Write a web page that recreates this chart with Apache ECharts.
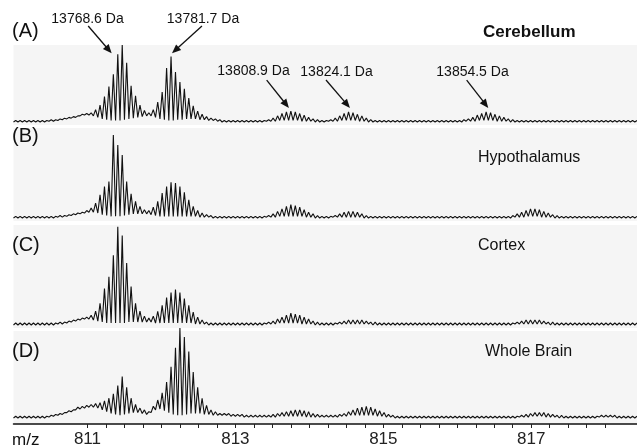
<!DOCTYPE html>
<html><head><meta charset="utf-8">
<script src="https://cdn.jsdelivr.net/npm/echarts@6/dist/echarts.min.js"></script>
<style>html,body{margin:0;padding:0;background:#fff}#c{width:637px;height:448px}</style>
</head><body><div id="c"></div>
<script>
// sampling grid of the spectrum (m/z), one isotope slot per step
const mzStart = 810.0;
const mzStep = 0.06;
const xTicks = [811,811.25,811.5,811.75,812,812.25,812.5,812.75,813,813.25,813.5,813.75,814,814.25,814.5,814.75,815,815.25,815.5,815.75,816,816.25,816.5,816.75,817,817.25,817.5,817.75,818];
const xLabels = [811,813,815,817];
const panelNames = ['Cerebellum','Hypothalamus','Cortex','Whole Brain'];
const panelTags = ['(A)','(B)','(C)','(D)'];

// peak tops (relative intensity, %) per isotope slot
const peaksA = [2,2,2,2,2,2,2,2, 3,3,4,5,6,7,8,10,11, 12,16,22,33,46,62,88,100,77,47,34,22,15,12, 16,26,39,70,85,65,52,43,31,21,14,10,7,5,4,3, 2,2,2,2,2,2,2,2,2,2, 3,5,8,11,13,14,13,11,9,6,4,3, 2,2, 3,5,8,11,13,12,10,8,5,3, 2,2,2,2,2,2,2,2,2,2,2,2,2,2,2,2,2,2,2,2, 3,4,6,9,11,13,12,10,8,6,4,3, 2,2,2,2,2,2,2,2,2,2,2,2,2,2,2,2,2,2,2,2,2,2,2,2,2,2,2,2];
const floorA = [0,0,0,0,0,0,0,0, 1,1,2,3,4,5,6,8,9, 9,8,6,4,3,2,2,2,3,4,5,6,7,8, 8,6,4,3,2,2,3,3,4,4,4,3,3,2,2,1, 0,0,0,0,0,0,0,0,0,0, 1,1,1,2,2,2,2,2,1,1,1,0, 0,0, 1,1,1,2,2,2,2,1,1,0, 0,0,0,0,0,0,0,0,0,0,0,0,0,0,0,0,0,0,0,0, 0,1,1,1,2,2,2,2,1,1,1,0, 0,0,0,0,0,0,0,0,0,0,0,0,0,0,0,0,0,0,0,0,0,0,0,0,0,0,0,0];

const peaksB = [2,2,2,2,2,2,2,2,2,2, 3,3,4,5,6,7, 9,12,18,28,38,44,100,88,76,44,29,20,14,10,9, 13,20,30,38,43,42,38,31,22,14,9,6,4,3, 2,2,2,2,2,2,2,2,2,2,2,2, 3,5,8,11,14,16,15,13,10,7,5,3, 2,2,2, 3,5,7,8,8,7,5,3, 2,2,2,2,2,2,2,2,2,2,2,2,2,2,2,2,2,2,2,2,2,2,2,2,2,2,2,2,2,2,2,2, 3,5,7,9,11,11,10,8,6,4,3, 2,2,2,2,2,2,2,2,2,2,2,2,2,2,2,2,2,2];
const floorB = [0,0,0,0,0,0,0,0,0,0, 1,1,2,3,4,5, 6,7,7,6,4,3,2,2,2,3,4,5,5,5,5, 4,3,2,2,2,2,2,2,2,2,2,1,1,1, 0,0,0,0,0,0,0,0,0,0,0,0, 1,1,1,2,2,2,2,2,2,1,1,0, 0,0,0, 1,1,1,1,1,1,1,0, 0,0,0,0,0,0,0,0,0,0,0,0,0,0,0,0,0,0,0,0,0,0,0,0,0,0,0,0,0,0,0,0, 0,1,1,1,2,2,2,1,1,1,0, 0,0,0,0,0,0,0,0,0,0,0,0,0,0,0,0,0,0];

const peaksC = [2,2,2,2,2,2,2,2,2,2, 3,3,4,5,6,7, 8,10,14,22,37,49,71,100,91,63,39,22,14,9,7, 9,14,20,28,33,36,33,27,20,13,8,5,3, 2,2,2,2,2,2,2,2,2,2,2,2,2, 3,4,6,8,10,12,11,10,8,6,4,3, 2,2,2,2, 3,4,5,5,5,5,4,3,3, 2,2,2,2,2,2,2,2,2,2,2,2,2,2,2,2,2,2,2,2,2,2,2,2,2,2,2,2,2,2,2, 3,4,5,5,5,5,4,3,3,2, 2,2,2,2,2,2,2,2,2,2,2,2,2,2,2,2,2,2];
const floorC = [0,0,0,0,0,0,0,0,0,0, 1,1,2,3,4,5, 6,6,5,4,3,2,2,2,2,2,3,3,3,3,3, 3,2,2,2,2,2,2,2,2,2,1,1,1, 0,0,0,0,0,0,0,0,0,0,0,0,0, 1,1,1,2,2,2,2,2,1,1,1,0, 0,0,0,0, 1,1,1,1,1,1,1,1,0, 0,0,0,0,0,0,0,0,0,0,0,0,0,0,0,0,0,0,0,0,0,0,0,0,0,0,0,0,0,0,0, 1,1,1,1,1,1,1,1,0,0, 0,0,0,0,0,0,0,0,0,0,0,0,0,0,0,0,0,0];

const peaksD = [2,2,2,2,2,2,2,2, 3,4,5,6,8,9, 12,13,14,15,16,17,19,22,27,36,46,34,22,15,11,9,7, 13,20,28,40,57,78,100,90,74,51,34,22,14,9,7,5, 5,5,4,4,4,3,3,3,3,3, 3,4,5,6,7,8,9,9,8,7,5,4,3, 3,3,3, 4,5,7,9,11,12,13,12,10,8,6,4,3, 2,2,2,2,2,2,2,2,2,2,2,2,2,2,2,2,2,2,2,2,2,2,2,2,2,2,2,2, 3,4,5,6,6,6,5,4,3,3, 2,2,2,2,2,2,2,2,3,3,3,3,2,2,2,2,2];
const floorD = [0,0,0,0,0,0,0,0, 1,2,3,4,6,7, 9,10,11,12,12,11,9,7,5,4,3,4,5,6,6,5,4, 6,9,10,8,6,4,3,3,4,5,5,5,4,4,3,3, 3,3,2,2,2,1,1,1,1,1, 1,1,1,2,2,2,2,2,2,1,1,1,1, 1,1,1, 1,2,2,3,3,3,3,3,3,2,2,1,1, 0,0,0,0,0,0,0,0,0,0,0,0,0,0,0,0,0,0,0,0,0,0,0,0,0,0,0,0, 1,1,1,2,2,2,1,1,1,0, 0,0,0,0,0,0,0,0,1,1,1,1,0,0,0,0,0];

// annotations (panel A), data coordinates
const annoText = ['13768.6 Da','13781.7 Da','13808.9 Da','13824.1 Da','13854.5 Da'];
const arrowTailMz = [811.01, 812.548, 813.423, 814.225, 816.127];
const arrowTailVal = [124.7, 124.7, 54.5, 54.5, 54.5];
const arrowTipMz = [811.327, 812.143, 813.724, 814.549, 816.419];
const arrowTipVal = [89.2, 89.2, 18.2, 18.2, 18.2];

const panels = [[peaksA, floorA], [peaksB, floorB], [peaksC, floorC], [peaksD, floorD]];
function toLine(peaks, floor) {
  const out = [];
  for (let i = 0; i < peaks.length; i++) {
    const x = mzStart + i * mzStep;
    out.push([x, floor[i]]);
    out.push([x + mzStep / 2, peaks[i]]);
  }
  return out;
}

const FONT = '"Liberation Sans", Arial, sans-serif';
const gridBox = [
  {top: 45, height: 80},
  {top: 128, height: 93},
  {top: 225, height: 103},
  {top: 331, height: 93}
];
const yRange = [[-3.9, 100], [-3.6, 108.4], [-3.05, 101.7], [-6.67, 96.7]];
const X_MIN = 810, X_MAX = 818.43;

const grids = gridBox.map(g => ({left: 13.5, right: 0, top: g.top, height: g.height, show: true, backgroundColor: '#f5f5f5', borderWidth: 0}));
const xAxes = gridBox.map((g, k) => ({
  type: 'value', gridIndex: k, min: X_MIN, max: X_MAX, show: k === 3,
  splitLine: {show: false},
  axisLine: {show: true, onZero: false, lineStyle: {color: '#111', width: 1.5}},
  axisTick: {show: true, customValues: xTicks, length: 4, lineStyle: {color: '#222', width: 1}},
  axisLabel: {show: true, customValues: xLabels, fontSize: 17, color: '#222', margin: 7, fontFamily: FONT}
}));
const yAxes = gridBox.map((g, k) => ({type: 'value', gridIndex: k, min: yRange[k][0], max: yRange[k][1], show: false}));

const series = panels.map((p, k) => ({
  type: 'line', xAxisIndex: k, yAxisIndex: k, data: toLine(p[0], p[1]),
  showSymbol: false, clip: false, silent: true,
  lineStyle: {color: '#111', width: 1.1}
}));

const txt = (x, y, s, size, opts) => ({type: 'text', x: x, y: y, silent: true, style: Object.assign({text: s, fontSize: size, fontFamily: FONT, fill: '#111', textAlign: 'left', textVerticalAlign: 'middle'}, opts || {})});
const tagY = [31, 136, 245, 351];
const nameX = [483, 478, 478, 485];
const nameY = [32, 158, 246, 352];
const annoX = [87.5, 203, 253.5, 336.5, 472.5];
const annoY = [19, 19, 71, 72, 72];
const graphics = [];
panelTags.forEach((t, k) => graphics.push(txt(12, tagY[k], t, 20)));
panelNames.forEach((t, k) => graphics.push(txt(nameX[k], nameY[k], t, k === 0 ? 17 : 16, k === 0 ? {fontWeight: 'bold'} : {})));
annoText.forEach((t, j) => graphics.push(txt(annoX[j], annoY[j], t, 14, {textAlign: 'center'})));
graphics.push(txt(12, 440, 'm/z', 17));

const chart = echarts.init(document.getElementById('c'), null, {renderer: 'canvas'});
chart.setOption({
  animation: false,
  backgroundColor: '#ffffff',
  grid: grids, xAxis: xAxes, yAxis: yAxes, series: series,
  graphic: graphics
});

// arrows: positioned through panel A's own axes
annoText.forEach((t, j) => {
  const p0 = chart.convertToPixel({xAxisIndex: 0, yAxisIndex: 0}, [arrowTailMz[j], arrowTailVal[j]]);
  const p1 = chart.convertToPixel({xAxisIndex: 0, yAxisIndex: 0}, [arrowTipMz[j], arrowTipVal[j]]);
  const dx = p1[0] - p0[0], dy = p1[1] - p0[1];
  const len = Math.sqrt(dx * dx + dy * dy), ux = dx / len, uy = dy / len;
  const hl = 9, hw = 3.8;
  const bx = p1[0] - ux * hl, by = p1[1] - uy * hl;
  graphics.push({type: 'line', silent: true, shape: {x1: p0[0], y1: p0[1], x2: bx + ux * 2, y2: by + uy * 2}, style: {stroke: '#111', lineWidth: 1.3}});
  graphics.push({type: 'polygon', silent: true, shape: {points: [[p1[0], p1[1]], [bx - uy * hw, by + ux * hw], [bx + uy * hw, by - ux * hw]]}, style: {fill: '#111'}});
});
chart.setOption({graphic: graphics});
</script></body></html>
